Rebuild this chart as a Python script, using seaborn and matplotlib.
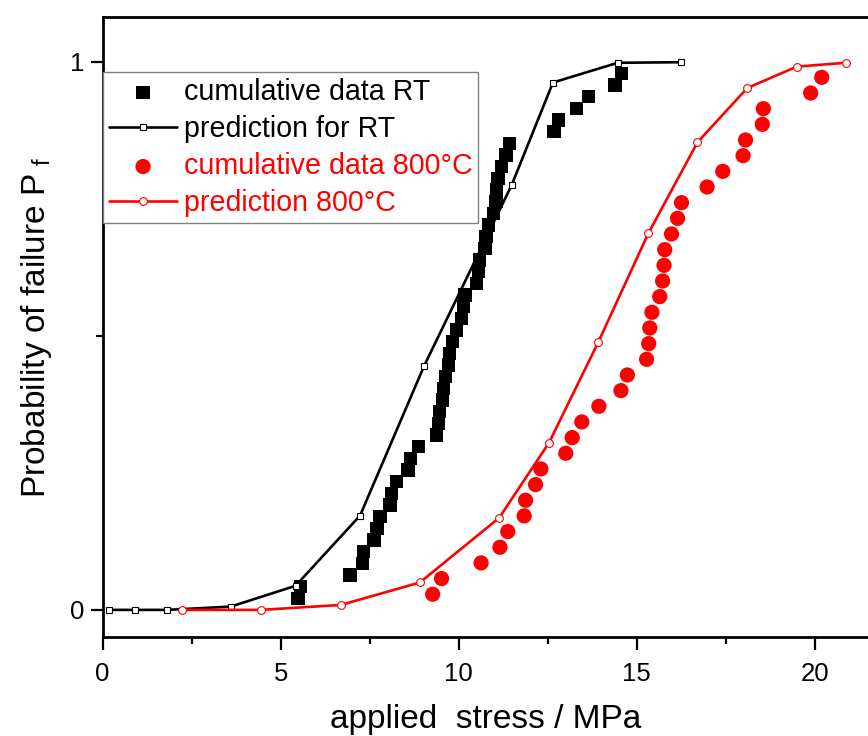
import matplotlib
matplotlib.use("Agg")
import matplotlib.pyplot as plt
from matplotlib.ticker import FixedLocator
import seaborn as sns
import numpy as np

# ---- data ----
rt_x = [5.49, 5.56, 6.95, 7.30, 7.32, 7.62, 7.71, 7.79, 8.07, 8.12, 8.26, 8.58,
        8.65, 8.87, 9.38, 9.43, 9.46, 9.55, 9.57, 9.64, 9.71, 9.74, 9.83, 9.94,
        10.08, 10.13, 10.18, 10.51, 10.55, 10.58, 10.74, 10.77, 10.83, 10.97,
        11.05, 11.07, 11.11, 11.21, 11.33, 11.42, 12.68, 12.80, 13.31, 13.64,
        14.39, 14.58]
rt_p = [i / 47 for i in range(1, 47)]

ht_x = [9.27, 9.52, 10.63, 11.16, 11.38, 11.84, 11.88, 12.16, 12.31, 13.01,
        13.19, 13.46, 13.94, 14.56, 14.74, 15.28, 15.34, 15.37, 15.43, 15.65,
        15.73, 15.77, 15.79, 15.98, 16.15, 16.26, 16.98, 17.42, 17.99, 18.06,
        18.53, 18.56, 19.89, 20.20]
ht_p = [i / 35 for i in range(1, 35)]

rt_pred_x = [0.18, 0.91, 1.80, 3.60, 5.42, 7.23, 9.03, 11.49, 12.65, 14.47, 16.26]
rt_pred_p = [0.0, 0.0, 0.0, 0.006, 0.044, 0.172, 0.445, 0.775, 0.962, 0.998, 0.999]

ht_pred_x = [2.23, 4.45, 6.69, 8.91, 11.14, 12.54, 13.92, 15.33, 16.71, 18.11, 19.50, 20.88]
ht_pred_p = [0.0, 0.0, 0.009, 0.05, 0.168, 0.305, 0.488, 0.687, 0.853, 0.952, 0.991, 0.998]

labels = ["cumulative data RT", "prediction for RT",
          "cumulative data 800°C", "prediction 800°C"]
x_ticks = [0, 5, 10, 15, 20]
x_minor = [2.5, 7.5, 12.5, 17.5]
y_ticks = [0, 1]
y_minor = [0.5]

sns.set_style("ticks")
plt.rcParams["font.family"] = ["Liberation Sans", "DejaVu Sans"]
plt.rcParams["mathtext.fontset"] = "custom"
plt.rcParams["mathtext.rm"] = "Liberation Sans"
plt.rcParams["text.color"] = "black"
plt.rcParams["axes.labelcolor"] = "black"

RED = "#ff0000"

fig = plt.figure(figsize=(8.68, 7.36), dpi=100)
ax = fig.add_axes([0.1183, 0.1341, 1 - 0.1183, 0.9769 - 0.1341])

sns.scatterplot(x=rt_x, y=rt_p, marker="s", s=92, color="black",
                edgecolor="none", linewidth=0, ax=ax, zorder=2)
sns.scatterplot(x=ht_x, y=ht_p, marker="o", s=120, color=RED,
                edgecolor="none", linewidth=0, ax=ax, zorder=2)
sns.lineplot(x=rt_pred_x, y=rt_pred_p, sort=False, estimator=None, color="black",
             lw=1.9, marker="s", markersize=4.8, markerfacecolor="white",
             markeredgecolor="black", markeredgewidth=0.8, ax=ax, zorder=3)
sns.lineplot(x=ht_pred_x, y=ht_pred_p, sort=False, estimator=None, color=RED,
             lw=1.9, marker="o", markersize=5.6, markerfacecolor="white",
             markeredgecolor=RED, markeredgewidth=0.8, ax=ax, zorder=3)

ax.set_xlim(0, 21.5)
ax.set_ylim(-0.05, 1.0815)
ax.xaxis.set_major_locator(FixedLocator(x_ticks))
ax.xaxis.set_minor_locator(FixedLocator(x_minor))
ax.yaxis.set_major_locator(FixedLocator(y_ticks))
ax.yaxis.set_minor_locator(FixedLocator(y_minor))
ax.set_xticklabels([str(t) for t in x_ticks])
ax.set_yticklabels([str(t) for t in y_ticks])
ax.tick_params(which="major", direction="out", length=9, width=1.6,
               labelsize=18.5, colors="black", labelcolor="black")
ax.tick_params(axis="x", which="major", pad=9)
ax.tick_params(axis="y", which="major", pad=4.5)
ax.tick_params(which="minor", direction="out", length=4.8, width=1.6, colors="black")

for s in ["left", "bottom", "top"]:
    ax.spines[s].set_visible(True)
    ax.spines[s].set_linewidth(2.0)
    ax.spines[s].set_color("black")
ax.spines["right"].set_visible(False)

ax.set_xlabel("applied  stress / MPa", fontsize=24, labelpad=13)
ax.set_ylabel("Probability of failure P$_{\\mathregular{\\ f}}$", fontsize=24, labelpad=11)

handles = [ax.collections[0], ax.lines[0], ax.collections[1], ax.lines[1]]
leg = ax.legend(handles, labels, loc="upper left",
                bbox_to_anchor=(103 / 868, 1 - 72 / 736), bbox_transform=fig.transFigure,
                borderaxespad=0, frameon=True, fancybox=False, framealpha=1,
                edgecolor="#808080", fontsize=20.6, handlelength=2.4,
                handletextpad=0.22, labelspacing=0.32, borderpad=0.2,
                scatterpoints=1, numpoints=1)
leg.get_frame().set_linewidth(1.0)
for t, c in zip(leg.get_texts(), ["black", "black", RED, RED]):
    t.set_color(c)

fig.savefig("out.png", dpi=100)
